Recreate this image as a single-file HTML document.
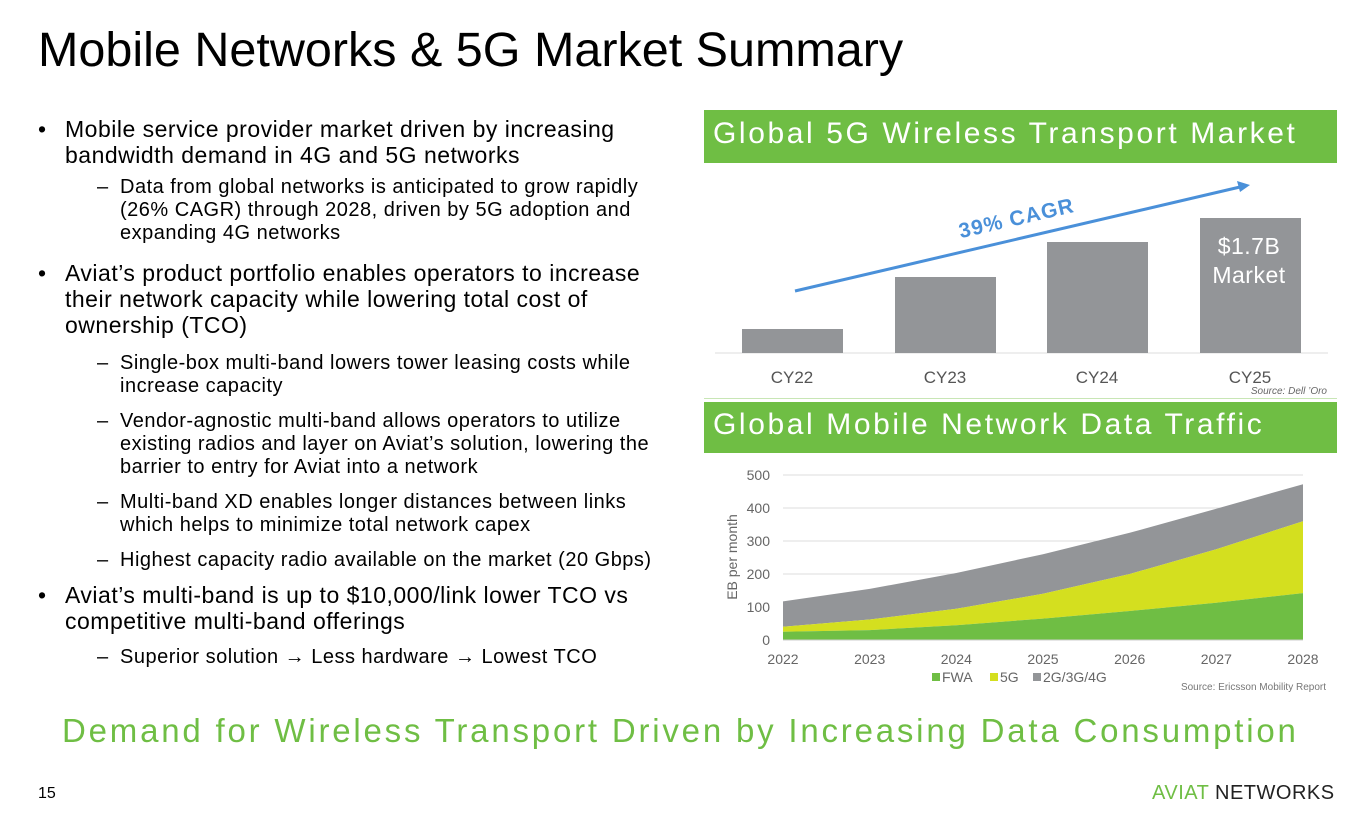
<!DOCTYPE html>
<html><head><meta charset="utf-8"><style>
body{margin:0;width:1365px;height:819px;background:#fff;font-family:"Liberation Sans",Arial,sans-serif;position:relative;overflow:hidden;color:#000}
.a{position:absolute;white-space:nowrap}
.b{font-size:23px;line-height:26px;letter-spacing:0.5px}
.s{font-size:20px;line-height:23px;letter-spacing:0.5px}
</style></head><body>
<div class="a" style="left:38px;top:22px;font-size:48.5px">Mobile Networks &amp; 5G Market Summary</div>

<div class="a b" style="left:38px;top:116px">•</div>
<div class="a b" style="left:65px;top:116px">Mobile service provider market driven by increasing<br>bandwidth demand in 4G and 5G networks</div>
<div class="a s" style="left:97px;top:176px">–</div>
<div class="a s" style="left:120px;top:176px">Data from global networks is anticipated to grow rapidly<br>(26% CAGR) through 2028, driven by 5G adoption and<br>expanding 4G networks</div>
<div class="a b" style="left:38px;top:260px">•</div>
<div class="a b" style="left:65px;top:260px">Aviat’s product portfolio enables operators to increase<br>their network capacity while lowering total cost of<br>ownership (TCO)</div>
<div class="a s" style="left:97px;top:352px">–</div>
<div class="a s" style="left:120px;top:352px">Single-box multi-band lowers tower leasing costs while<br>increase capacity</div>
<div class="a s" style="left:97px;top:410px">–</div>
<div class="a s" style="left:120px;top:410px">Vendor-agnostic multi-band allows operators to utilize<br>existing radios and layer on Aviat’s solution, lowering the<br>barrier to entry for Aviat into a network</div>
<div class="a s" style="left:97px;top:491px">–</div>
<div class="a s" style="left:120px;top:491px">Multi-band XD enables longer distances between links<br>which helps to minimize total network capex</div>
<div class="a s" style="left:97px;top:549px">–</div>
<div class="a s" style="left:120px;top:549px">Highest capacity radio available on the market (20 Gbps)</div>
<div class="a b" style="left:38px;top:582px">•</div>
<div class="a b" style="left:65px;top:582px">Aviat’s multi-band is up to $10,000/link lower TCO vs<br>competitive multi-band offerings</div>
<div class="a s" style="left:97px;top:646px">–</div>
<div class="a s" style="left:120px;top:646px">Superior solution → Less hardware → Lowest TCO</div>

<div class="a" style="left:704px;top:110px;width:633px;height:53px;background:#6fbe44"></div>
<div class="a" style="left:713px;top:117px;font-size:30px;color:#fff;letter-spacing:2.6px">Global 5G Wireless Transport Market</div>
<div class="a" style="left:704px;top:402px;width:633px;height:51px;background:#6fbe44"></div>
<div class="a" style="left:713px;top:408px;font-size:30px;color:#fff;letter-spacing:2.6px">Global Mobile Network Data Traffic</div>
<div class="a" style="left:704px;top:398px;width:633px;height:1px;background:#c8e6b5"></div>

<svg class="a" style="left:0;top:0" width="1365" height="819">
<line x1="715" y1="353" x2="1328" y2="353" stroke="#ddd"/>
<rect x="742" y="329" width="101" height="24" fill="#939598"/>
<rect x="895" y="277" width="101" height="76" fill="#939598"/>
<rect x="1047" y="242" width="101" height="111" fill="#939598"/>
<rect x="1200" y="218" width="101" height="135" fill="#939598"/>
<line x1="795" y1="291" x2="1240" y2="187" stroke="#4a90d9" stroke-width="3"/>
<polygon points="1250,185 1237,181 1240,192" fill="#4a90d9"/>
<text x="1018" y="225" font-size="21" font-weight="bold" fill="#4a90d9" transform="rotate(-13 1018 225)" text-anchor="middle" font-family="Liberation Sans" letter-spacing="1">39% CAGR</text>
<text x="1249" y="254" font-size="23" fill="#fff" text-anchor="middle" font-family="Liberation Sans" letter-spacing="0.5">$1.7B</text>
<text x="1249" y="283" font-size="23" fill="#fff" text-anchor="middle" font-family="Liberation Sans" letter-spacing="0.5">Market</text>
<g font-size="17" fill="#555" text-anchor="middle" font-family="Liberation Sans">
<text x="792" y="383">CY22</text><text x="945" y="383">CY23</text><text x="1097" y="383">CY24</text><text x="1250" y="383">CY25</text></g>
<text x="1327" y="394" font-size="10" font-style="italic" fill="#666" text-anchor="end" font-family="Liberation Sans">Source: Dell ’Oro</text>

<g stroke="#ddd"><line x1="783" y1="475" x2="1303" y2="475"/><line x1="783" y1="508" x2="1303" y2="508"/><line x1="783" y1="541" x2="1303" y2="541"/><line x1="783" y1="574" x2="1303" y2="574"/><line x1="783" y1="607" x2="1303" y2="607"/></g>
<polygon fill="#939598" points="783,601.4 869.7,588.9 956.3,573 1043,554.2 1129.7,532.8 1216.3,508.7 1303,484.2 1303,521.2 1216.3,549.3 1129.7,574 1043,593.8 956.3,608.7 869.7,619.5 783,626.8"/>
<polygon fill="#d4df1f" points="783,626.8 869.7,619.5 956.3,608.7 1043,593.8 1129.7,574 1216.3,549.3 1303,521.2 1303,593.1 1216.3,602.7 1129.7,611 1043,618.6 956.3,625.2 869.7,630.1 783,631.8"/>
<polygon fill="#6fbe44" points="783,631.8 869.7,630.1 956.3,625.2 1043,618.6 1129.7,611 1216.3,602.7 1303,593.1 1303,640 783,640"/>
<line x1="783" y1="640" x2="1303" y2="640" stroke="#ccc"/>
<g font-size="14" fill="#666" text-anchor="end" font-family="Liberation Sans">
<text x="770" y="645">0</text><text x="770" y="612">100</text><text x="770" y="579">200</text><text x="770" y="546">300</text><text x="770" y="513">400</text><text x="770" y="480">500</text></g>
<text transform="translate(737 557) rotate(-90)" font-size="14" fill="#666" text-anchor="middle" font-family="Liberation Sans">EB per month</text>
<g font-size="14" fill="#666" text-anchor="middle" font-family="Liberation Sans">
<text x="783" y="664">2022</text><text x="869.7" y="664">2023</text><text x="956.3" y="664">2024</text><text x="1043" y="664">2025</text><text x="1129.7" y="664">2026</text><text x="1216.3" y="664">2027</text><text x="1303" y="664">2028</text></g>
<rect x="932" y="673" width="8" height="8" fill="#6fbe44"/><text x="942" y="682" font-size="14" fill="#666" font-family="Liberation Sans">FWA</text>
<rect x="990" y="673" width="8" height="8" fill="#d4df1f"/><text x="1000" y="682" font-size="14" fill="#666" font-family="Liberation Sans">5G</text>
<rect x="1033" y="673" width="8" height="8" fill="#939598"/><text x="1043" y="682" font-size="14" fill="#666" font-family="Liberation Sans">2G/3G/4G</text>
<text x="1326" y="690" font-size="10" fill="#777" text-anchor="end" font-family="Liberation Sans">Source: Ericsson Mobility Report</text>
</svg>

<div class="a" style="left:62px;top:712px;font-size:33px;color:#6fbe44;letter-spacing:2.8px">Demand for Wireless Transport Driven by Increasing Data Consumption</div>
<div class="a" style="left:38px;top:785px;font-size:16px">15</div>
<div class="a" style="left:1152px;top:782px;font-size:20px;color:#222;letter-spacing:0.5px"><span style="color:#6fbe44">AVIAT</span> NETWORKS</div>
</body></html>
